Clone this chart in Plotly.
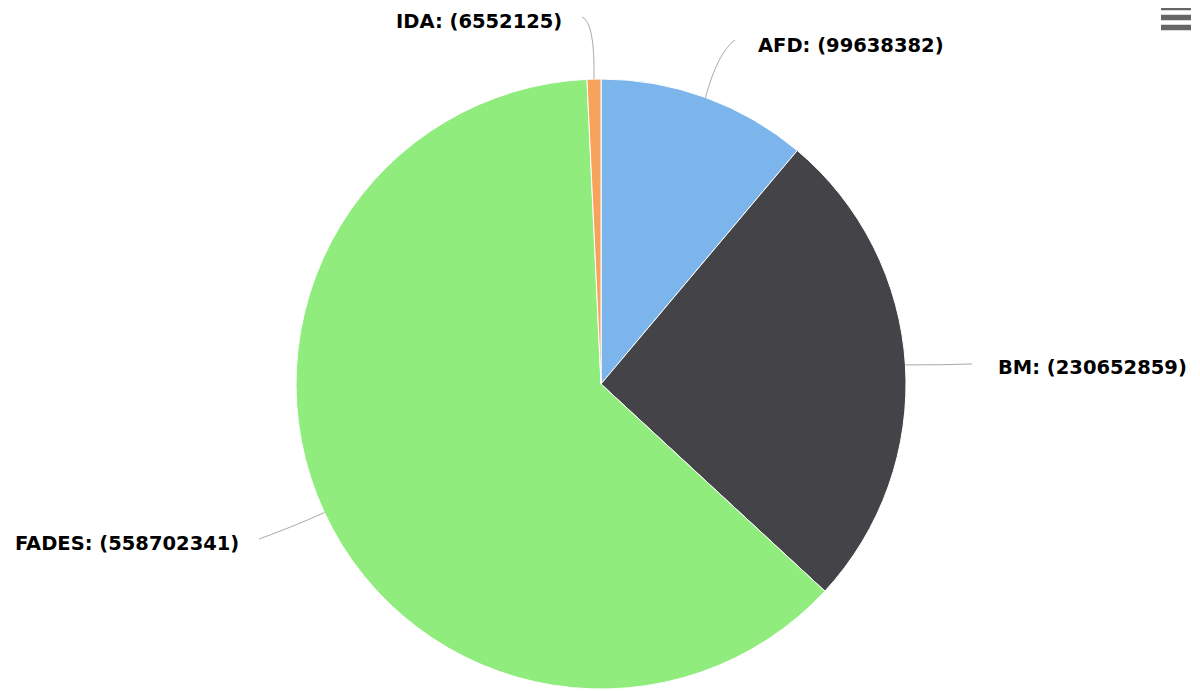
import math
import plotly.graph_objects as go

labels = ["AFD", "BM", "FADES", "IDA"]
values = [99638382, 230652859, 558702341, 6552125]
colors = ["#7cb5ec", "#434348", "#90ed7d", "#f7a35c"]

# page body has an 8px default margin, so the figure is sized to fit the window
OFF = 8
W, H = 1200 - OFF, 691 - OFF
CX, CY, R = 601, 384, 305


def px(x):
    return (x - OFF) / W


def py(y):
    return 1 - (y - OFF) / H


fig = go.Figure(go.Pie(
    labels=labels, values=values, sort=False, direction="clockwise", rotation=0,
    marker=dict(colors=colors, line=dict(color="#ffffff", width=1)),
    textinfo="none", hoverinfo="label+value", showlegend=False,
    domain=dict(x=[px(CX - R), px(CX + R)], y=[py(CY + R), py(CY - R)]),
))

total = sum(values)
cum = 0
mids = []
for v in values:
    mids.append((cum + v / 2) / total * 2 * math.pi)
    cum += v

# label layout (pixel): bezier control point, connector end, text anchor, side
layout_spec = {
    "AFD": dict(ctrl=(718, 52), end=(735, 40), text=(756, 46), side="left"),
    "BM": dict(ctrl=(940, 365), end=(972, 364), text=(996, 367), side="left"),
    "FADES": dict(ctrl=(290, 528), end=(259, 539), text=(241, 543), side="right"),
    "IDA": dict(ctrl=(595, 22), end=(582, 17), text=(564, 22), side="right"),
}

shapes = []
annotations = []
for lab, v, a in zip(labels, values, mids):
    sx = CX + R * math.sin(a)
    sy = CY - R * math.cos(a)
    spec = layout_spec[lab]
    cx_, cy_ = spec["ctrl"]
    tx, ty = spec["end"]
    path = f"M {px(sx)} {py(sy)} Q {px(cx_)} {py(cy_)} {px(tx)} {py(ty)}"
    shapes.append(dict(type="path", xref="paper", yref="paper", path=path,
                       line=dict(color="#aaaaaa", width=1)))
    lx, ly = spec["text"]
    annotations.append(dict(
        x=px(lx), y=py(ly), xref="paper", yref="paper", showarrow=False,
        text=f"<b>{lab}: ({v})</b>",
        xanchor="left" if spec["side"] == "left" else "right", yanchor="middle",
        font=dict(family="DejaVu Sans", size=19.5, color="#000000"),
    ))

# context menu icon
for yy in (7.5, 17.5, 27.5):
    shapes.append(dict(type="line", xref="paper", yref="paper",
                       x0=px(1161), x1=px(1191), y0=py(yy), y1=py(yy),
                       line=dict(color="#666666", width=5.5)))

fig.update_layout(
    width=W, height=H, margin=dict(l=0, r=0, t=0, b=0),
    paper_bgcolor="#ffffff", plot_bgcolor="#ffffff",
    shapes=shapes, annotations=annotations,
)

fig.write_html("out.html", config={"displayModeBar": False})
